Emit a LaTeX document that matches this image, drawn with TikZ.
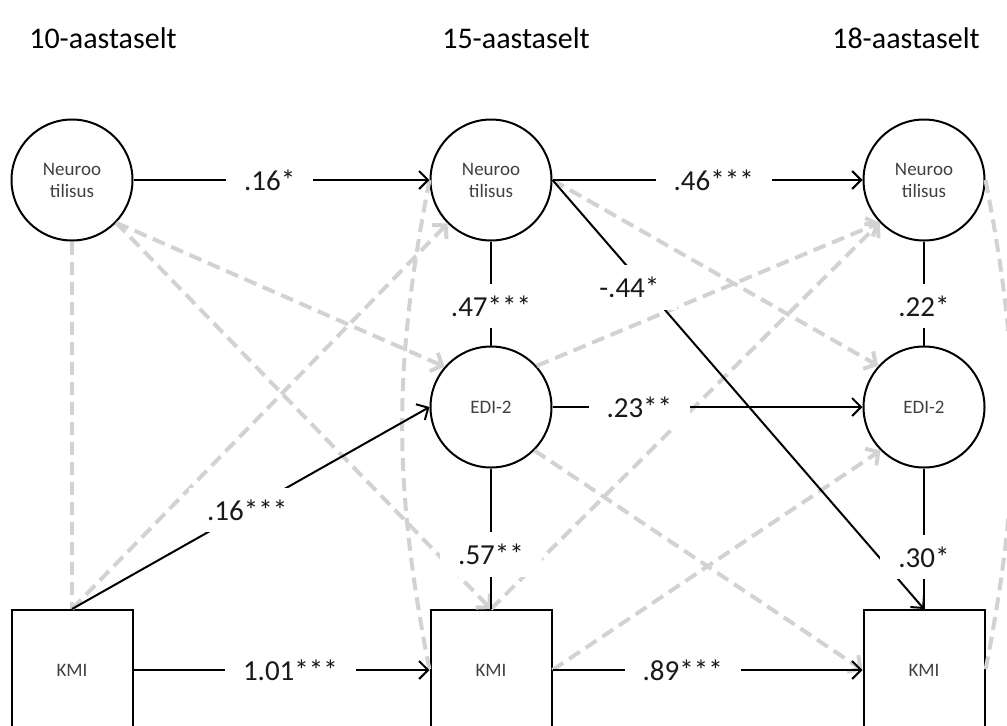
\documentclass[tikz,border=0pt]{standalone}
\usepackage{fontspec}
\setmainfont{Carlito}
\usepackage{tikz}
\usetikzlibrary{shapes,positioning,arrows.meta}
\tikzstyle{latent}= [draw,
circle,
line width=1pt,
minimum size=60.5pt,
inner sep=0,
align=center,
text=black!75,
font=\fontsize{9.5}{11}\selectfont,
]
\tikzstyle{observed}= [draw,
rectangle,
line width=1pt,
minimum width=60.5pt,
minimum height=60pt,
text=black!75,
font=\fontsize{9.5}{11}\selectfont,
]
\tikzstyle{age}= [font=\fontsize{15}{18}\selectfont]
\tikzstyle{coef}= [fill=white,
inner xsep=9pt,
inner ysep=6pt,
text=black!90,
font=\fontsize{14.5}{16}\selectfont,
]
\tikzstyle{sig}= [line width=1pt, -{Straight Barb[length=4.5pt,width=9pt]}]
\tikzstyle{corr}= [line width=1pt]
\tikzstyle{nonsig}= [line width=2pt, color=gray!35, dash pattern=on 6.5pt off 3.5pt,
-{Straight Barb[length=4.5pt,width=10pt]}]
\tikzstyle{nonsigcorr}= [line width=2pt, color=gray!35, dash pattern=on 6.5pt off 3.5pt]

\begin{document}
\begin{tikzpicture}[on grid]
        \useasboundingbox (-36pt,90pt) rectangle (467.5pt,-272.5pt);
        \clip (-36pt,90pt) rectangle (467.5pt,-272.5pt);
        \node[latent] (neuro_10) {Neuroo\\tilisus};
        \node[latent, right=209.5pt of neuro_10] (neuro_15) {Neuroo\\tilisus};
        \node[latent, right=216.5pt of neuro_15] (neuro_18) {Neuroo\\tilisus};
        \node[latent, below=113.5pt of neuro_15] (edi_15) {EDI-2};
        \node[latent, below=113.5pt of neuro_18] (edi_18) {EDI-2};
        \node[observed, below=245pt of neuro_10] (kmi_10) {KMI};
        \node[observed, below=131.5pt of edi_15] (kmi_15) {KMI};
        \node[observed, below=131.5pt of edi_18] (kmi_18) {KMI};
        \node[age, above=71pt of neuro_10, xshift=15.5pt] (age_10) {10-aastaselt};
        \node[age, above=71pt of neuro_15, xshift=12.5pt] (age_15) {15-aastaselt};
        \node[age, above=71pt of neuro_18, xshift=-9pt] (age_18) {18-aastaselt};

        \path[nonsig] (neuro_10.-44) edge (edi_15.139)
        (neuro_10.-44) edge (kmi_15.north)
        (kmi_10.north) edge (neuro_15.-135)
        (neuro_15.east) edge (edi_18.138)
        (edi_15.42) edge (neuro_18.-136)
        (kmi_15.north) edge (neuro_18.-136)
        (edi_15.-45) edge (kmi_18.west)
        (kmi_15.east) edge (edi_18.-135);
        \path[nonsigcorr] (neuro_10) edge (kmi_10)
        (neuro_15.west) edge[bend right=11] (kmi_15.west)
        (neuro_18.east) edge[bend left=11] (kmi_18.east);

        \path[sig] (neuro_10) edge node[coef, pos=0.46]{.16*} (neuro_15)
        (neuro_15.east) edge node[coef, pos=0.52]{.46***} (neuro_18)
        (edi_15) edge node[coef, pos=0.28]{.23**} (edi_18)
        (kmi_10) edge node[coef, pos=0.53]{1.01***} (kmi_15)
        (kmi_15) edge node[coef, pos=0.42]{.89***} (kmi_18)
        (kmi_10.north) edge node[coef, pos=0.49]{.16***} (edi_15.west)
        (neuro_15.east) edge node[coef, pos=0.25, xshift=-8pt]{-.44*} (kmi_18.north);
        \path[corr] (neuro_15) edge node[coef, pos=0.62]{.47***} (edi_15)
        (edi_15) edge node[coef, pos=0.61]{.57**} (kmi_15)
        (neuro_18) edge node[coef, pos=0.62]{.22*} (edi_18)
        (edi_18) edge node[coef, pos=0.63]{.30*} (kmi_18);
    \end{tikzpicture}
\end{document}
